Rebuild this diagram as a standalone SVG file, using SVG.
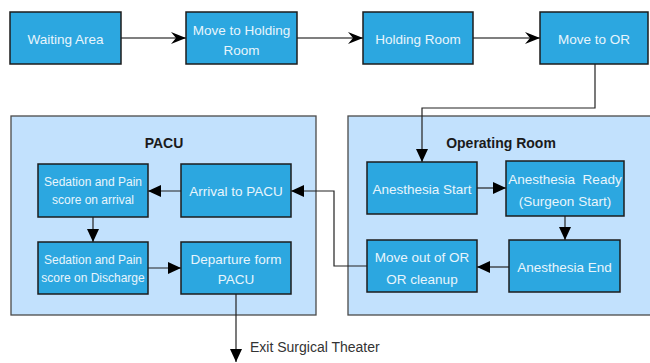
<svg xmlns="http://www.w3.org/2000/svg" width="650" height="363" viewBox="0 0 650 363">
<style>
.bg{fill:#ffffff}
.cont{fill:#c2e1fd;stroke:#4a4a4a;stroke-width:1.3}
.node rect{fill:#2ca7e0;stroke:#1c1c1c;stroke-width:1.5}
.nt{font-family:"Liberation Sans",Arial,sans-serif;font-size:13.5px;fill:#e8f5fc;text-anchor:middle;white-space:pre}
.st{font-size:12px}
.title{font-family:"Liberation Sans",Arial,sans-serif;font-size:14px;font-weight:bold;fill:#1a1a1a;text-anchor:middle}
.lbl{font-family:"Liberation Sans",Arial,sans-serif;font-size:14px;fill:#333333}
.c{fill:none;stroke:#222222;stroke-width:1.2}
.top{stroke:#555555;stroke-width:1.5}
</style>
<defs>
<marker id="notch" markerUnits="userSpaceOnUse" markerWidth="16" markerHeight="12" refX="15" refY="6" orient="auto">
<path d="M0,0 L15,6 L0,12 L5,6 Z" fill="#000"/>
</marker>
<marker id="tri" markerUnits="userSpaceOnUse" markerWidth="14" markerHeight="12" refX="13" refY="6" orient="auto">
<path d="M0,0 L13,6 L0,12 Z" fill="#000"/>
</marker>
</defs>
<rect class="bg" width="650" height="363"/>
<g id="pacu-container">
<rect class="cont" x="11" y="116" width="305" height="199"/>
<text class="title" x="164" y="148">PACU</text>
</g>
<g id="or-container">
<rect class="cont" x="348" y="116" width="310" height="199"/>
<text class="title" x="501" y="148">Operating Room</text>
</g>
<g id="connectors">
<line class="c top" x1="121" y1="38" x2="186" y2="38" marker-end="url(#notch)"/>
<line class="c top" x1="297" y1="38" x2="363" y2="38" marker-end="url(#notch)"/>
<line class="c top" x1="473" y1="38" x2="540" y2="38" marker-end="url(#notch)"/>
<path class="c" d="M595,64 V108 H422 V162" marker-end="url(#tri)"/>
<line class="c" x1="477" y1="188" x2="506" y2="188" marker-end="url(#tri)"/>
<line class="c" x1="565" y1="216" x2="565" y2="240" marker-end="url(#tri)"/>
<line class="c" x1="509" y1="267" x2="477" y2="267" marker-end="url(#tri)"/>
<path class="c" d="M367,266 H334 V191 H291" marker-end="url(#tri)"/>
<line class="c" x1="181" y1="191" x2="148" y2="191" marker-end="url(#tri)"/>
<line class="c" x1="93" y1="217" x2="93" y2="242" marker-end="url(#tri)"/>
<line class="c" x1="148" y1="268" x2="181" y2="268" marker-end="url(#tri)"/>
<line class="c" x1="236" y1="294" x2="236" y2="362" marker-end="url(#tri)"/>
<text class="lbl" x="250" y="352">Exit Surgical Theater</text>
</g>
<g id="waiting-area" class="node">
<rect x="10" y="12" width="111" height="52"/>
<text class="nt" x="65.5" y="44">Waiting Area</text>
</g>
<g id="move-to-holding" class="node">
<rect x="186" y="12" width="111" height="52"/>
<text class="nt" x="241.5" y="35">Move to Holding</text>
<text class="nt" x="241.5" y="55">Room</text>
</g>
<g id="holding-room" class="node">
<rect x="363" y="12" width="110" height="52"/>
<text class="nt" x="418" y="44">Holding Room</text>
</g>
<g id="move-to-or" class="node">
<rect x="540" y="12" width="108" height="52"/>
<text class="nt" x="594" y="44">Move to OR</text>
</g>
<g id="anesthesia-start" class="node">
<rect x="367" y="162" width="110" height="52"/>
<text class="nt" x="422" y="194">Anesthesia Start</text>
</g>
<g id="anesthesia-ready" class="node">
<rect x="506" y="161" width="118" height="55"/>
<text class="nt" x="565" y="184">Anesthesia  Ready</text>
<text class="nt" x="565" y="206">(Surgeon Start)</text>
</g>
<g id="anesthesia-end" class="node">
<rect x="509" y="240" width="111" height="52"/>
<text class="nt" x="564.5" y="272">Anesthesia End</text>
</g>
<g id="move-out-of-or" class="node">
<rect x="367" y="240" width="110" height="52"/>
<text class="nt" x="422" y="262">Move out of OR</text>
<text class="nt" x="422" y="284">OR cleanup</text>
</g>
<g id="arrival-to-pacu" class="node">
<rect x="181" y="164" width="110" height="53"/>
<text class="nt" x="236" y="196">Arrival to PACU</text>
</g>
<g id="sedation-arrival" class="node">
<rect x="38" y="164" width="110" height="53"/>
<text class="nt st" x="93" y="186">Sedation and Pain</text>
<text class="nt st" x="93" y="204">score on arrival</text>
</g>
<g id="sedation-discharge" class="node">
<rect x="38" y="242" width="110" height="52"/>
<text class="nt st" x="93" y="264">Sedation and Pain</text>
<text class="nt st" x="93" y="282">score on Discharge</text>
</g>
<g id="departure-pacu" class="node">
<rect x="181" y="242" width="110" height="52"/>
<text class="nt" x="236" y="264">Departure form</text>
<text class="nt" x="236" y="284">PACU</text>
</g>
</svg>
